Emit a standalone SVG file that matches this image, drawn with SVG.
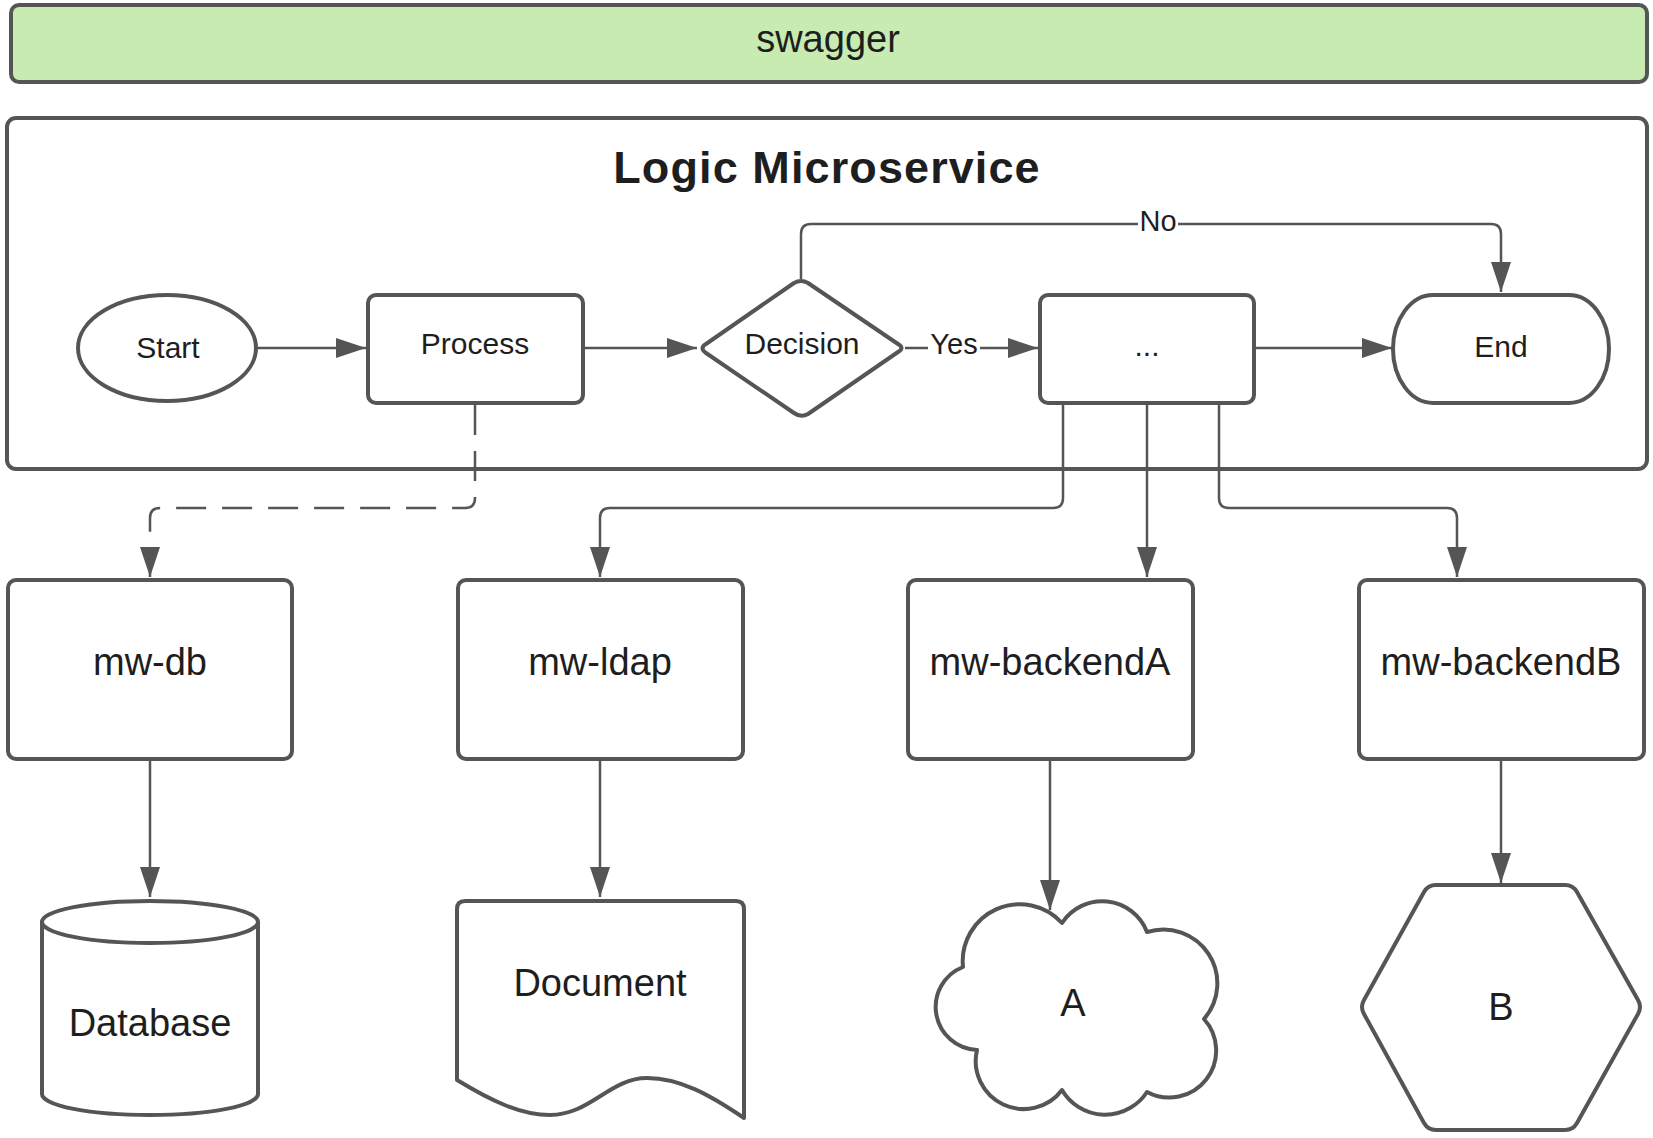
<svg xmlns="http://www.w3.org/2000/svg" width="1653" height="1138" viewBox="0 0 1653 1138">
<style>
.shape{fill:#ffffff;stroke:#555555;stroke-width:4;stroke-linejoin:round}
.conn{fill:none;stroke:#555555;stroke-width:2.5}
.dash{stroke-dasharray:30 16}
.t{font-family:"Liberation Sans",Arial,sans-serif;fill:#1e1e1e;text-anchor:middle}
.s30{font-size:30px}
.s38{font-size:38px}
.lbl{font-size:29px}
</style>
<defs>
<marker id="arr" markerUnits="userSpaceOnUse" markerWidth="30" markerHeight="20" refX="30" refY="10" orient="auto">
<path d="M0,0 L30,10 L0,20 Z" fill="#555555"/>
</marker>
</defs>
<rect width="1653" height="1138" fill="#ffffff"/>

<g id="swagger">
<rect x="11" y="5" width="1636" height="77" rx="8" fill="#c8ebb1" stroke="#555555" stroke-width="4"/>
<text class="t s38" x="828" y="52">swagger</text>
</g>

<g id="logic-microservice">
<rect x="7" y="118" width="1640" height="351" rx="9" fill="none" stroke="#555555" stroke-width="4"/>
<text class="t" x="827" y="183" font-size="45" font-weight="bold" letter-spacing="1.1">Logic Microservice</text>
</g>

<g id="connectors">
<path class="conn" d="M258,348 H366" marker-end="url(#arr)"/>
<path class="conn" d="M585,348 H697" marker-end="url(#arr)"/>
<path class="conn" d="M905,348 H1038" marker-end="url(#arr)"/>
<path class="conn" d="M1256,348 H1392" marker-end="url(#arr)"/>
<path class="conn" d="M801,279 V234 Q801,224 811,224 H1491 Q1501,224 1501,234 V292" marker-end="url(#arr)"/>
<path class="conn dash" d="M475,405 V498 Q475,508 465,508 H160 Q150,508 150,518 V577" marker-end="url(#arr)"/>
<path class="conn" d="M1063,405 V498 Q1063,508 1053,508 H610 Q600,508 600,518 V577" marker-end="url(#arr)"/>
<path class="conn" d="M1147,405 V577" marker-end="url(#arr)"/>
<path class="conn" d="M1219,405 V498 Q1219,508 1229,508 H1447 Q1457,508 1457,518 V577" marker-end="url(#arr)"/>
<path class="conn" d="M150,761 V897" marker-end="url(#arr)"/>
<path class="conn" d="M600,761 V897" marker-end="url(#arr)"/>
<path class="conn" d="M1050,761 V910" marker-end="url(#arr)"/>
<path class="conn" d="M1501,761 V883" marker-end="url(#arr)"/>
<rect x="928" y="330" width="52" height="34" fill="#ffffff"/>
<text class="t lbl" x="954" y="354">Yes</text>
<rect x="1138" y="208" width="40" height="32" fill="#ffffff"/>
<text class="t lbl" x="1158" y="231">No</text>
</g>

<g id="start">
<ellipse class="shape" cx="167" cy="348" rx="89" ry="53"/>
<text class="t s30" x="168" y="358">Start</text>
</g>

<g id="process">
<rect class="shape" x="368" y="295" width="215" height="108" rx="8"/>
<text class="t s30" x="475" y="354">Process</text>
</g>

<g id="decision">
<path class="shape" d="M808,283 L898,344 Q905,348 898,352 L808,414 Q801,418 794,413 L706,353 Q699,348 706,344 L794,283 Q801,279 808,283 Z"/>
<text class="t s30" x="802" y="354">Decision</text>
</g>

<g id="step">
<rect class="shape" x="1040" y="295" width="214" height="108" rx="8"/>
<text class="t s30" x="1147" y="356">...</text>
</g>

<g id="end">
<path class="shape" d="M1433,295 H1569 A40,54 0 0,1 1569,403 H1433 A40,54 0 0,1 1433,295 Z"/>
<text class="t s30" x="1501" y="357">End</text>
</g>

<g id="mw-db">
<rect class="shape" x="8" y="580" width="284" height="179" rx="8"/>
<text class="t s38" x="150" y="675">mw-db</text>
</g>

<g id="mw-ldap">
<rect class="shape" x="458" y="580" width="285" height="179" rx="8"/>
<text class="t s38" x="600" y="675">mw-ldap</text>
</g>

<g id="mw-backendA">
<rect class="shape" x="908" y="580" width="285" height="179" rx="8"/>
<text class="t s38" x="1050" y="675">mw-backendA</text>
</g>

<g id="mw-backendB">
<rect class="shape" x="1359" y="580" width="285" height="179" rx="8"/>
<text class="t s38" x="1501" y="675">mw-backendB</text>
</g>

<g id="database">
<path class="shape" d="M42,922 V1094 A108,21 0 0,0 258,1094 V922"/>
<ellipse class="shape" cx="150" cy="922" rx="108" ry="21"/>
<text class="t s38" x="150" y="1036">Database</text>
</g>

<g id="document">
<path class="shape" d="M457,1080 V909 Q457,901 465,901 H736 Q744,901 744,909 V1118 C710,1095 680,1078 647,1078 C610,1078 590,1115 550,1115 C520,1115 490,1100 457,1080 Z"/>
<text class="t s38" x="600" y="996">Document</text>
</g>

<g id="cloud-a">
<path class="shape" d="M963,967 A57,57 0 0,1 1062,923 A48,48 0 0,1 1147,932 A54,54 0 0,1 1204,1019 A47,47 0 0,1 1147,1092 A50,50 0 0,1 1062,1090 A48,48 0 0,1 977,1050 A43,43 0 0,1 963,967 Z"/>
<text class="t s38" x="1073" y="1016">A</text>
</g>

<g id="hexagon-b">
<path class="shape" d="M1436,885 H1565 Q1573,885 1577,892 L1638,1000 Q1642,1007 1638,1014 L1577,1123 Q1573,1130 1565,1130 H1436 Q1428,1130 1424,1123 L1364,1014 Q1360,1007 1364,1000 L1424,892 Q1428,885 1436,885 Z"/>
<text class="t s38" x="1501" y="1020">B</text>
</g>
</svg>
